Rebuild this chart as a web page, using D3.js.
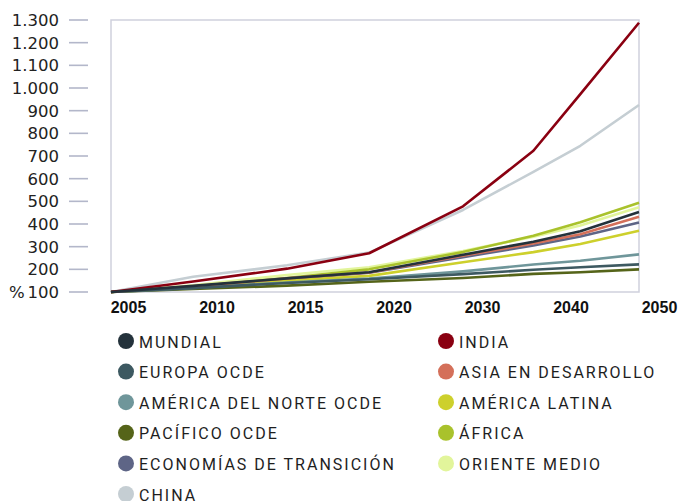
<!DOCTYPE html>
<html>
<head>
<meta charset="utf-8">
<script src="https://cdn.jsdelivr.net/npm/d3@7"></script>
<style>
  html, body { margin: 0; padding: 0; background: #fff; }
  svg { display: block; }
</style>
</head>
<body>
<svg id="chart" width="678" height="501"></svg>
<script>
// ---- data ----
const years = [2005, 2012, 2020, 2027, 2035, 2041, 2045, 2050];
const axisLabels = ["2005", "2010", "2015", "2020", "2030", "2040", "2050"];
const yTicks = [100, 200, 300, 400, 500, 600, 700, 800, 900, 1000, 1100, 1200, 1300];

const mundial      = [100, 127, 160, 187, 264, 322, 368, 453];
const india        = [100, 146, 203, 271, 478, 723, 973, 1288];
const europaOcde   = [100, 117, 140, 156, 179, 198, 209, 222];
const asiaDes      = [100, 125, 160, 186, 260, 314, 355, 432];
const americaNorte = [100, 118, 142, 159, 191, 221, 238, 266];
const americaLat   = [100, 120, 150, 171, 231, 276, 312, 370];
const pacificoOcde = [100, 113, 128, 145, 162, 180, 187, 200];
const africa       = [100, 122, 162, 200, 276, 348, 408, 494];
const economiasTr  = [100, 124, 157, 185, 254, 305, 345, 407];
const orienteMedio = [100, 130, 175, 209, 281, 344, 393, 474];
const china        = [100, 167, 218, 274, 462, 630, 745, 925];

const seriesNames = ["MUNDIAL", "INDIA", "EUROPA OCDE", "ASIA EN DESARROLLO",
  "AMÉRICA DEL NORTE OCDE", "AMÉRICA LATINA", "PACÍFICO OCDE", "ÁFRICA",
  "ECONOMÍAS DE TRANSICIÓN", "ORIENTE MEDIO", "CHINA"];
const seriesValues = [mundial, india, europaOcde, asiaDes, americaNorte, americaLat,
  pacificoOcde, africa, economiasTr, orienteMedio, china];
const seriesColors = ["#24323b", "#8a0011", "#3d5961", "#d4705a", "#6f969a", "#cdd02c",
  "#556419", "#a9c22c", "#5e6586", "#e2f59b", "#c5ced3"];

// ---- layout ----
const svg = d3.select("#chart");
const plot = { left: 111, right: 639, top: 20, bottom: 292 };

const x = d3.scaleLinear().domain([2005, 2050]).range([plot.left, plot.right]);
const y = d3.scaleLinear().domain([100, 1300]).range([plot.bottom, plot.top]);
const xLab = d3.scalePoint().domain(axisLabels).range([plot.left + 17, plot.right + 20]);

svg.append("rect").attr("width", 678).attr("height", 501).attr("fill", "#fff");

// y axis: detached tick dashes + labels
const gy = svg.append("g");
gy.selectAll("line").data(yTicks).join("line")
  .attr("x1", plot.left - 42).attr("x2", plot.left - 23)
  .attr("y1", d => y(d)).attr("y2", d => y(d))
  .attr("stroke", "#b3b7ca").attr("stroke-width", 1.6);
gy.selectAll("text").data(yTicks).join("text")
  .attr("x", plot.left - 52).attr("y", d => y(d)).attr("dy", "0.36em")
  .attr("text-anchor", "end")
  .attr("font-family", "DejaVu Sans").attr("font-size", 16.5).attr("fill", "#222")
  .text(d => d3.format(",")(d).replace(/,/g, "."));

svg.append("text").attr("x", 9).attr("y", y(100)).attr("dy", "0.36em")
  .attr("font-family", "DejaVu Sans").attr("font-size", 16.5).attr("fill", "#222").text("%");

// x axis labels
const xAxis = d3.axisBottom(xLab).tickSize(0).tickPadding(10);
const gx = svg.append("g").attr("transform", `translate(0,${plot.bottom})`).call(xAxis);
gx.select(".domain").remove();
gx.selectAll(".tick text")
  .attr("font-family", "Liberation Sans").attr("font-weight", "bold")
  .attr("font-size", 16).attr("fill", "#111");

// plot frame
svg.append("rect")
  .attr("x", plot.left).attr("y", plot.top)
  .attr("width", plot.right - plot.left).attr("height", plot.bottom - plot.top)
  .attr("fill", "none").attr("stroke", "#cfd1dd").attr("stroke-width", 1.5);

// lines
const line = d3.line().x((d, i) => x(years[i])).y(d => y(d));
const drawOrder = [10, 9, 8, 7, 6, 5, 4, 3, 2, 1, 0];
svg.append("g").selectAll("path").data(drawOrder).join("path")
  .attr("d", i => line(seriesValues[i]))
  .attr("fill", "none")
  .attr("stroke", i => seriesColors[i])
  .attr("stroke-width", 2.6)
  .attr("stroke-linejoin", "round");

// legend
const legend = svg.append("g");
const rowH = 30.6;
seriesNames.forEach((name, i) => {
  const col = i % 2, row = Math.floor(i / 2);
  const cx = col === 0 ? 126 : 446;
  const cy = 341 + row * rowH;
  legend.append("circle").attr("cx", cx).attr("cy", cy).attr("r", 8).attr("fill", seriesColors[i]);
  legend.append("text").attr("x", cx + 13).attr("y", cy + 6.5)
    .attr("font-family", "Roboto").attr("font-size", 16)
    .attr("letter-spacing", "2px").attr("fill", "#1e1e1e").text(name);
});
</script>
</body>
</html>
